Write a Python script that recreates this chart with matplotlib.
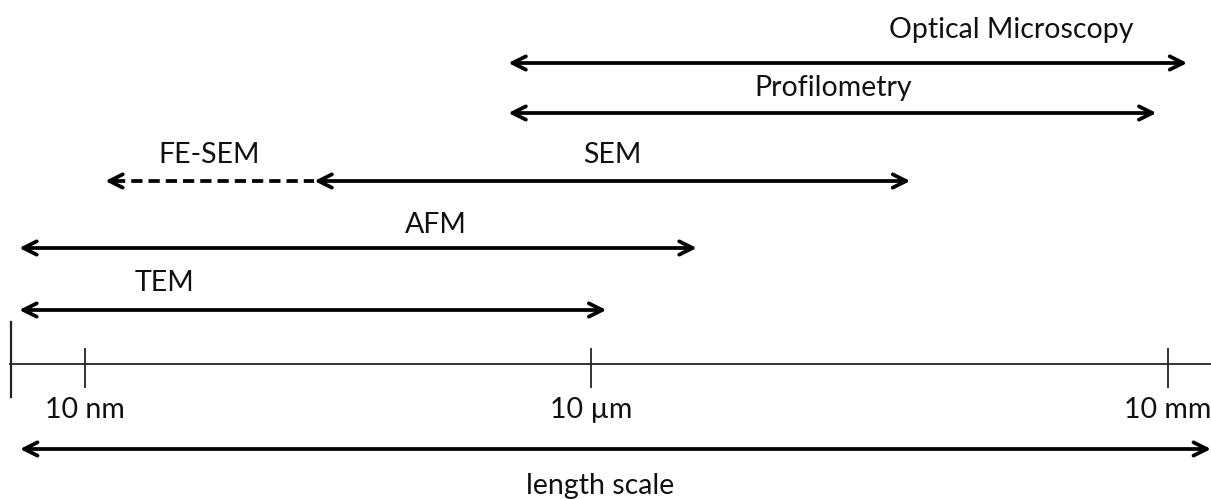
import numpy as np
import matplotlib.pyplot as plt

# Messbereiche der Methoden in log10(Meter)
methoden = ["Optical Microscopy", "Profilometry", "SEM", "AFM", "TEM"]
von = [-5.49, -5.49, -6.64, -8.39, -8.39]
bis = [-1.90, -2.06, -3.34, -4.45, -4.92]
fesem_von = -7.88
fesem_bis = -6.64

tick_werte = [-8, -5, -2]
tick_labels = ["10 nm", "10 µm", "10 mm"]

plt.rcParams['font.family'] = ['Lato', 'DejaVu Sans']
schrift = 20.5


# Achse im Original ist nicht ganz gleichmaessig: eigene Skala
def vor(v):
    v = np.asarray(v, dtype=float)
    return np.where(v < -5, 591 + (v + 5) * 168.67, 591 + (v + 5) * 192.33)


def zurueck(p):
    p = np.asarray(p, dtype=float)
    return np.where(p < 591, (p - 591) / 168.67 - 5, (p - 591) / 192.33 - 5)


fig = plt.figure(figsize=(12.11, 4.99), dpi=100)
ax = fig.add_axes([0, 0, 1, 1])
ax.set_xscale('function', functions=(vor, zurueck))
ax.set_xlim(float(zurueck(0)), float(zurueck(1211)))
ax.set_ylim(499, 0)
ax.axis('off')

# Zeilen (y in Pixeln) fuer Pfeile und Beschriftungen
zeilen_y = [63, 113, 181, 248, 310]
text_y = [30, 88, 155, 225, 283]
text_x = [1011, 833, 612, 436, 165]

pfeil = dict(arrowstyle='<->', lw=2.7, color='black', shrinkA=0, shrinkB=0,
             mutation_scale=24)

for name, a, b, y, ty, tx in zip(methoden, von, bis, zeilen_y, text_y, text_x):
    ax.annotate('', xy=(a, y), xytext=(b, y), arrowprops=pfeil)
    ax.text(float(zurueck(tx)), ty, name, ha='center', va='center',
            fontsize=schrift, color='#111111')

# FE-SEM gestrichelt
ax.plot([fesem_von + 0.05, fesem_bis], [181, 181], color='black', lw=2.7,
        linestyle=(0, (3, 1.6)))
ax.annotate('', xy=(fesem_von, 181), xytext=(fesem_von + 0.06, 181),
            arrowprops=dict(arrowstyle='->', lw=2.7, color='black', shrinkA=0,
                            shrinkB=0, mutation_scale=24))
ax.text(float(zurueck(209)), 155, "FE-SEM", ha='center', va='center',
        fontsize=schrift, color='#111111')

# Laengenskala
ax.plot([float(zurueck(10)), float(zurueck(1211))], [364, 364], color='#222222', lw=1.3)
ax.plot([float(zurueck(11))] * 2, [322, 397], color='#222222', lw=1.6)
for t, lab in zip(tick_werte, tick_labels):
    ax.plot([t, t], [349, 387], color='#222222', lw=1.3)
    ax.text(t, 410, lab, ha='center', va='center', fontsize=schrift, color='#111111')

ax.annotate('', xy=(float(zurueck(20)), 449), xytext=(float(zurueck(1211)), 449),
            arrowprops=pfeil)
ax.text(float(zurueck(600)), 486, "length scale", ha='center', va='center',
        fontsize=schrift, color='#111111')

plt.savefig('out.png', dpi=100)
